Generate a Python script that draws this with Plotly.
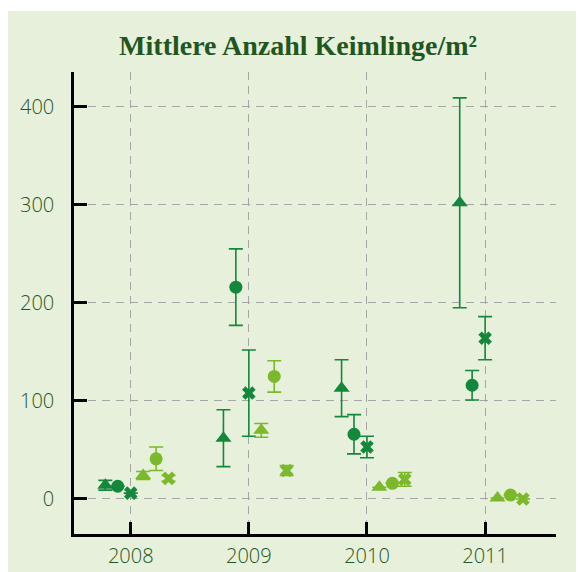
import plotly.graph_objects as go

years = [2008, 2009, 2010, 2011]

dark_tri = [14, 62, 113, 302]
dark_tri_err = [5, 29, 29, 107]
dark_circ = [13, 216, 66, 116]
dark_circ_err = [0, 39, 20, 15]
dark_x = [6, 108, 53, 164]
dark_x_err = [0, 44, 11, 22]
light_tri = [24, 70, 12, 1]
light_tri_err = [4, 7, 0, 0]
light_circ = [41, 125, 16, 4]
light_circ_err = [12, 16, 0, 0]
light_x = [21, 29, 20, 0]
light_x_err = [3, 5, 7, 0]

y_ticks = [0, 100, 200, 300, 400]
title_text = "Mittlere Anzahl Keimlinge/m²"

DARK = "#13873b"
LIGHT = "#7bb92b"
BG = "#e7f0da"
TXT = "#25561f"

series = [
    (dark_tri, dark_tri_err, DARK, "triangle-up", 14, -0.215),
    (dark_circ, dark_circ_err, DARK, "circle", 13, -0.11),
    (dark_x, dark_x_err, DARK, "x", 12, 0.0),
    (light_tri, light_tri_err, LIGHT, "triangle-up", 14, 0.105),
    (light_circ, light_circ_err, LIGHT, "circle", 13, 0.215),
    (light_x, light_x_err, LIGHT, "x", 12, 0.32),
]

fig = go.Figure()
for vals, errs, col, sym, sz, off in series:
    fig.add_trace(go.Scatter(
        x=[y + off for y in years], y=vals, mode="markers",
        marker=dict(symbol=sym, size=sz, color=col, line=dict(width=0)),
        error_y=dict(type="data", array=errs, visible=True, color=col,
                     thickness=1.6, width=7),
        showlegend=False, cliponaxis=False,
    ))

W, H = 576, 564
fig.update_layout(
    width=W, height=H,
    margin=dict(l=66, r=28, t=64, b=38),
    paper_bgcolor=BG, plot_bgcolor=BG,
    title=dict(text=title_text, x=290 / W, xref="container", xanchor="center",
               y=1 - 37 / H, yref="container", yanchor="middle",
               font=dict(family="Liberation Serif", size=28, color="#22561f",
                         weight="bold")),
    xaxis=dict(range=[2007.52, 2011.6], tickvals=years,
               ticktext=[str(y) for y in years], automargin=False,
               showline=True, linecolor="black", linewidth=2.5,
               ticks="inside", ticklen=12, tickwidth=2.5, tickcolor="black",
               showgrid=True, gridcolor="#a6a6a6", gridwidth=1.4, griddash="8px,6px",
               zeroline=False, ticklabelstandoff=2,
               tickfont=dict(family="Open Sans", size=20, color=TXT, weight=300)),
    yaxis=dict(range=[-35.7, 435.4], tickvals=y_ticks, automargin=False,
               showline=True, linecolor="black", linewidth=2.5,
               ticks="inside", ticklen=13, tickwidth=2.5, tickcolor="black",
               showgrid=True, gridcolor="#a6a6a6", gridwidth=1.4, griddash="8px,6px",
               zeroline=False, ticklabelstandoff=13,
               tickfont=dict(family="Open Sans", size=20, color=TXT, weight=300)),
    shapes=[
        dict(type="rect", xref="paper", yref="paper", x0=-0.3, x1=1.3,
             y0=1.132, y1=1.3, fillcolor="white", line=dict(width=0), layer="above"),
    ],
)

fig.write_html("out.html")
